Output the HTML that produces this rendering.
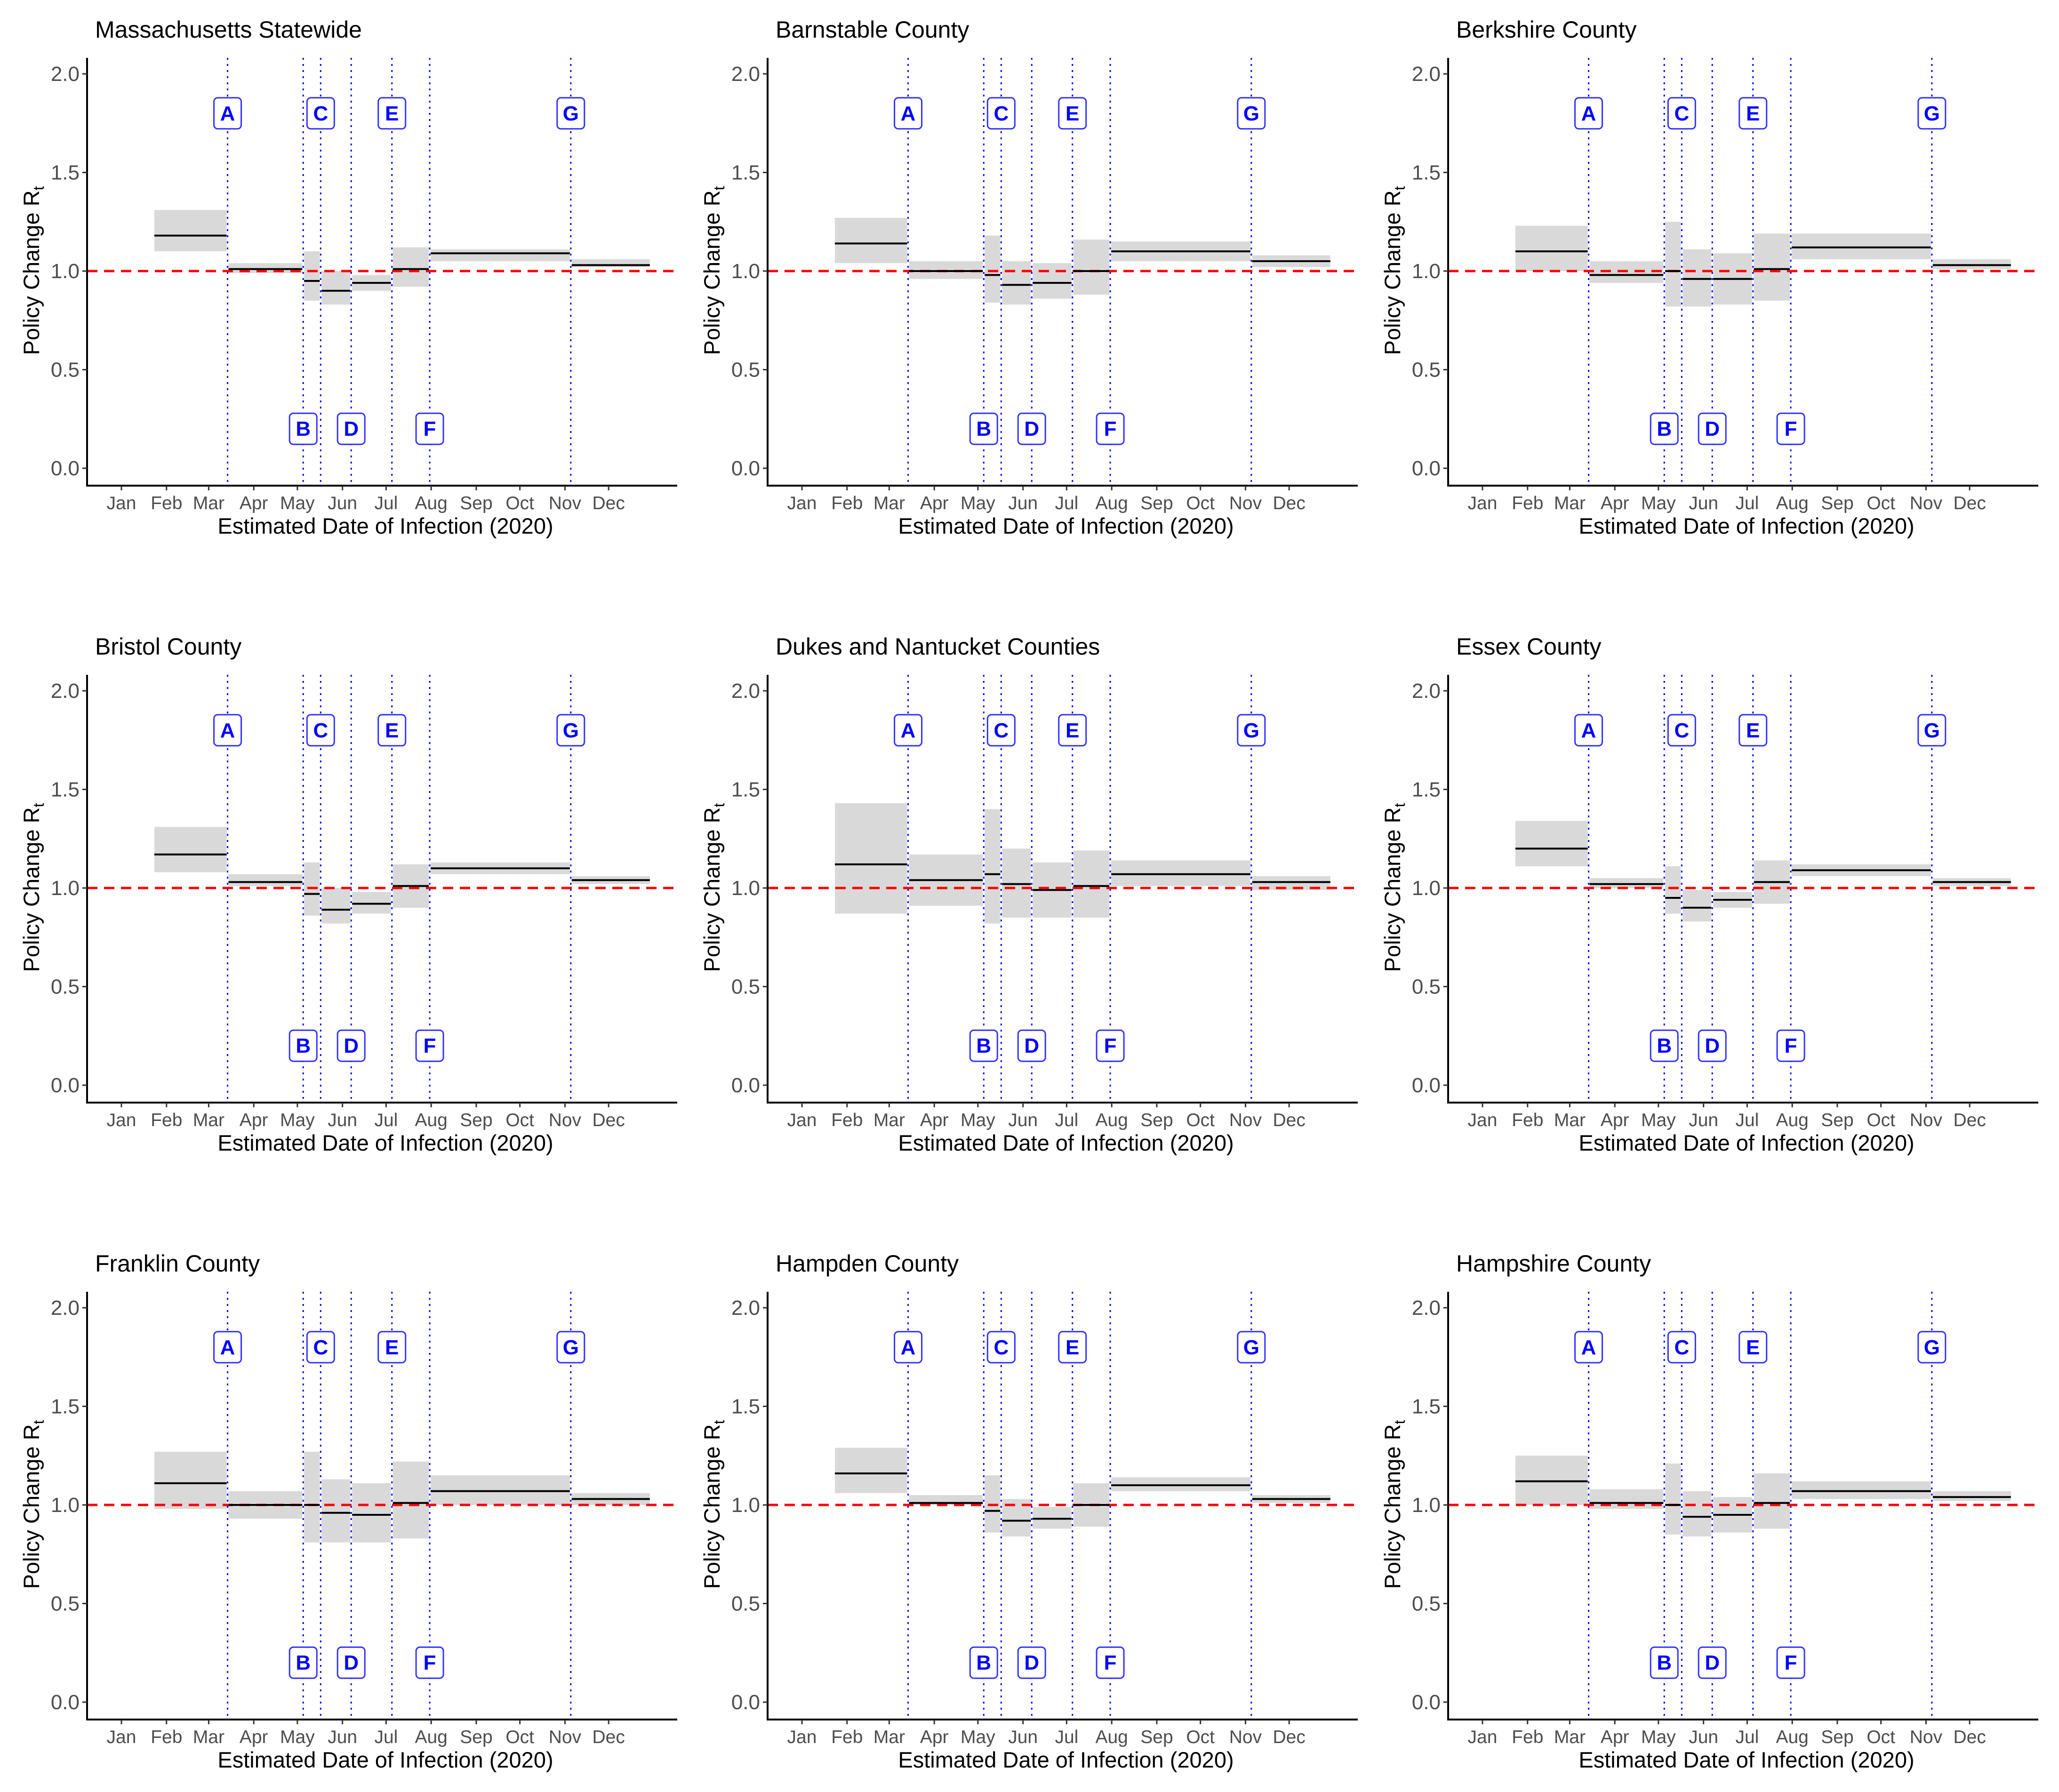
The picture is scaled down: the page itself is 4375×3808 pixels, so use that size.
<!DOCTYPE html>
<html><head><meta charset="utf-8">
<style>
html,body{margin:0;padding:0;background:#fff;}
svg{display:block;font-family:"Liberation Sans",Arial,sans-serif;}
</style></head>
<body>
<svg id="fig" width="4375" height="3808" viewBox="0 0 4375 3808" xmlns="http://www.w3.org/2000/svg"></svg>
<script>
const panelTitles = ["Massachusetts Statewide","Barnstable County","Berkshire County","Bristol County","Dukes and Nantucket Counties","Essex County","Franklin County","Hampden County","Hampshire County"];
const monthLabels = ["Jan","Feb","Mar","Apr","May","Jun","Jul","Aug","Sep","Oct","Nov","Dec"];
const monthDays = [0,31,60,91,121,152,182,213,244,274,305,335];
const yTicks = [0,0.5,1.0,1.5,2.0];
const segStart = [22,73,125,137,158,186,212,309];
const segEnd = [73,125,137,158,186,212,309,364];
const eventNames = ["A","B","C","D","E","F","G"];
const eventDays = [73,125,137,158,186,212,309];
const eventLabelY = [1.8,0.2,1.8,0.2,1.8,0.2,1.8];
const means = [
 [1.18,1.01,0.95,0.90,0.94,1.01,1.09,1.03],
 [1.14,1.00,0.98,0.93,0.94,1.00,1.10,1.05],
 [1.10,0.98,1.00,0.96,0.96,1.01,1.12,1.03],
 [1.17,1.03,0.97,0.89,0.92,1.01,1.10,1.04],
 [1.12,1.04,1.07,1.02,0.99,1.01,1.07,1.03],
 [1.20,1.02,0.95,0.90,0.94,1.03,1.09,1.03],
 [1.11,1.00,1.00,0.96,0.95,1.01,1.07,1.03],
 [1.16,1.01,0.97,0.92,0.93,1.00,1.10,1.03],
 [1.12,1.01,1.00,0.94,0.95,1.01,1.07,1.04]];
const lows = [
 [1.10,0.99,0.85,0.83,0.90,0.92,1.05,1.02],
 [1.04,0.96,0.84,0.83,0.86,0.88,1.05,1.02],
 [1.00,0.94,0.82,0.82,0.83,0.85,1.06,1.01],
 [1.08,1.01,0.86,0.82,0.87,0.90,1.07,1.02],
 [0.87,0.91,0.82,0.85,0.85,0.85,1.01,0.99],
 [1.11,1.00,0.87,0.83,0.90,0.92,1.06,1.01],
 [0.98,0.93,0.81,0.81,0.81,0.83,1.00,1.00],
 [1.06,1.00,0.86,0.84,0.88,0.89,1.07,1.01],
 [1.00,0.98,0.85,0.84,0.86,0.88,1.03,1.02]];
const highs = [
 [1.31,1.04,1.10,1.00,0.98,1.12,1.11,1.06],
 [1.27,1.05,1.18,1.05,1.04,1.16,1.15,1.08],
 [1.23,1.05,1.25,1.11,1.09,1.19,1.19,1.06],
 [1.31,1.07,1.13,1.00,0.98,1.12,1.13,1.06],
 [1.43,1.17,1.40,1.20,1.13,1.19,1.14,1.06],
 [1.34,1.05,1.11,0.99,0.98,1.14,1.12,1.05],
 [1.27,1.07,1.27,1.13,1.11,1.22,1.15,1.06],
 [1.29,1.05,1.15,1.03,0.99,1.11,1.14,1.05],
 [1.25,1.08,1.21,1.07,1.04,1.16,1.12,1.07]];

const svg = document.getElementById('fig');
const NS = 'http://www.w3.org/2000/svg';
function mk(tag, attrs, parent){const e=document.createElementNS(NS,tag);for(const k in attrs)e.setAttribute(k,attrs[k]);parent.appendChild(e);return e;}

panelTitles.forEach((title,p)=>{
  const col=p%3,row=Math.floor(p/3);
  const ox=185+col*1446, oy=row*1311;
  const y0=995+oy, pxPerUnit=419;
  const yS=v=>y0-v*pxPerUnit;
  const xS=d=>73+ox+d*3.09;
  const right=ox+1254, top=oy+123, axisY=oy+1032;
  const g=mk('g',{},svg);
  
  
  const t=mk('text',{x:ox+17,y:oy+80,'font-size':50,fill:'#000'},g);t.textContent=title;
  
  
  segStart.forEach((s,i)=>{
    const r=mk('rect',{x:xS(s)+2,y:yS(highs[p][i]),width:xS(segEnd[i])-xS(s)-4,height:yS(lows[p][i])-yS(highs[p][i]),fill:'#d9d9d9'},g);
    
    
  });
  const rl=mk('line',{x1:ox,x2:right,y1:yS(1),y2:yS(1),stroke:'#ff0000','stroke-width':5,'stroke-dasharray':'22 14'},g);
  
  
  segStart.forEach((s,i)=>{
    const l=mk('line',{x1:xS(s)+2,x2:xS(segEnd[i])-2,y1:yS(means[p][i]),y2:yS(means[p][i]),stroke:'#000','stroke-width':4},g);
    
    
  });
  eventDays.forEach((d,i)=>{
    const vl=mk('line',{x1:xS(d),x2:xS(d),y1:top,y2:axisY,stroke:'#0000ff','stroke-width':3,'stroke-dasharray':'4 9'},g);
    
    
    const cy=yS(eventLabelY[i]);
    const b=mk('rect',{x:xS(d)-29,y:cy-33,width:58,height:66,rx:8,fill:'#fff',stroke:'#3333ff','stroke-width':3},g);
    
    
    const lt=mk('text',{x:xS(d),y:cy+15,'font-size':44,'font-weight':'bold',fill:'#0000ff','text-anchor':'middle'},g);
    lt.textContent=eventNames[i];
    
    
  });
  mk('line',{x1:ox,x2:ox,y1:top,y2:axisY+2,stroke:'#000','stroke-width':4},g);
  mk('line',{x1:ox-2,x2:right,y1:axisY,y2:axisY,stroke:'#000','stroke-width':4},g);
  yTicks.forEach(v=>{
    mk('line',{x1:ox-10,x2:ox,y1:yS(v),y2:yS(v),stroke:'#333','stroke-width':3},g);
    const tt=mk('text',{x:ox-16,y:yS(v)+15,'font-size':44,fill:'#4d4d4d','text-anchor':'end'},g);
    tt.textContent=v.toFixed(1);
    
    
  });
  monthLabels.forEach((m,i)=>{
    mk('line',{x1:xS(monthDays[i]),x2:xS(monthDays[i]),y1:axisY,y2:axisY+10,stroke:'#333','stroke-width':3},g);
    const mt=mk('text',{x:xS(monthDays[i]),y:axisY+50,'font-size':39,fill:'#4d4d4d','text-anchor':'middle'},g);
    mt.textContent=m;
    
    
  });
  const xt=mk('text',{x:ox+634,y:axisY+102,'font-size':47,fill:'#000','text-anchor':'middle'},g);
  xt.textContent='Estimated Date of Infection (2020)';
  
  
  const yt=mk('text',{x:0,y:0,'font-size':47,fill:'#000','text-anchor':'middle',transform:`translate(${ox-102},${oy+575}) rotate(-90)`},g);
  yt.innerHTML='Policy Change R<tspan font-size="32" dy="10">t</tspan>';
  
  
});
</script>
</body></html>
